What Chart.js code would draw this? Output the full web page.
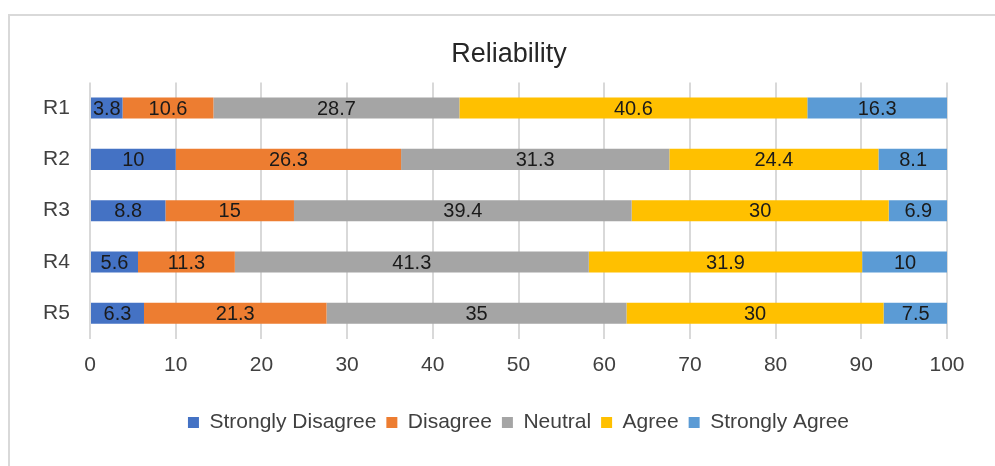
<!DOCTYPE html>
<html>
<head>
<meta charset="utf-8">
<script src="https://cdn.jsdelivr.net/npm/chart.js@4.4.1/dist/chart.umd.min.js"></script>
<style>
  html, body { margin: 0; padding: 0; background: #fff; }
  #wrap { position: relative; width: 995px; height: 466px; overflow: hidden; }
  #frame { position: absolute; left: 8px; top: 14px; width: 1100px; height: 600px;
           border-top: 2px solid #d9d9d9; border-left: 2px solid #d9d9d9; }
  canvas { position: absolute; left: 0; top: 0; }
</style>
</head>
<body>
<div id="wrap">
  <div id="frame"></div>
  <canvas id="reliabilityChart" width="995" height="466"></canvas>
</div>
<script>
// Data
const items = ['R1', 'R2', 'R3', 'R4', 'R5'];
const strongly_disagree = [3.8, 10, 8.8, 5.6, 6.3];
const disagree = [10.6, 26.3, 15, 11.3, 21.3];
const neutral = [28.7, 31.3, 39.4, 41.3, 35];
const agree = [40.6, 24.4, 30, 31.9, 30];
const strongly_agree = [16.3, 8.1, 6.9, 10, 7.5];
const xTicks = [0, 10, 20, 30, 40, 50, 60, 70, 80, 90, 100];

const FONT = '"Liberation Sans", Arial, sans-serif';

// Draws the value in the middle of every bar segment
const valueLabels = {
  id: 'valueLabels',
  afterDatasetsDraw(chart) {
    const ctx = chart.ctx;
    ctx.save();
    ctx.font = '20px ' + FONT;
    ctx.fillStyle = '#1a1a1a';
    ctx.textAlign = 'center';
    ctx.textBaseline = 'middle';
    chart.data.datasets.forEach((ds, i) => {
      const meta = chart.getDatasetMeta(i);
      meta.data.forEach((bar, j) => {
        const cx = (bar.x + bar.base) / 2;
        ctx.fillText(String(ds.data[j]), cx, bar.y + 1);
      });
    });
    ctx.restore();
  }
};

const ctx = document.getElementById('reliabilityChart').getContext('2d');
const reliabilityChart = new Chart(ctx, {
  type: 'bar',
  data: {
    labels: items,
    datasets: [
      { label: 'Strongly Disagree', data: strongly_disagree, backgroundColor: '#4472C4' },
      { label: 'Disagree', data: disagree, backgroundColor: '#ED7D31' },
      { label: 'Neutral', data: neutral, backgroundColor: '#A5A5A5' },
      { label: 'Agree', data: agree, backgroundColor: '#FFC000' },
      { label: 'Strongly Agree', data: strongly_agree, backgroundColor: '#5B9BD5' }
    ]
  },
  options: {
    indexAxis: 'y',
    responsive: false,
    animation: false,
    categoryPercentage: 1,
    barPercentage: 0.41,
    layout: { padding: { left: 71, right: 48, top: 0, bottom: 23 } },
    plugins: {
      title: {
        display: true,
        text: 'Reliability',
        color: '#262626',
        font: { family: FONT, size: 27, weight: 'normal' },
        padding: { top: 38, bottom: 12 }
      },
      legend: {
        position: 'bottom',
        fullSize: false,
        labels: {
          color: '#404040',
          font: { family: FONT, size: 21 },
          boxWidth: 11,
          boxHeight: 11,
          padding: 10
        }
      },
      tooltip: { enabled: false }
    },
    scales: {
      x: {
        stacked: true,
        min: 0,
        max: 100,
        afterBuildTicks: (axis) => { axis.ticks = xTicks.map(v => ({ value: v })); },
        afterFit: (axis) => { axis.height = 63; },
        grid: { color: '#d9d9d9', lineWidth: 2, drawTicks: false },
        border: { display: false },
        ticks: { color: '#404040', font: { family: FONT, size: 21 }, padding: 14 }
      },
      y: {
        stacked: true,
        afterFit: (axis) => { axis.width = 19; },
        grid: { display: false },
        border: { display: false },
        // mirrored so the labels are not clipped to the narrow axis box
        ticks: { color: '#404040', font: { family: FONT, size: 21 },
                 mirror: true, crossAlign: 'near', padding: -47 }
      }
    }
  },
  plugins: [valueLabels]
});
</script>
</body>
</html>
